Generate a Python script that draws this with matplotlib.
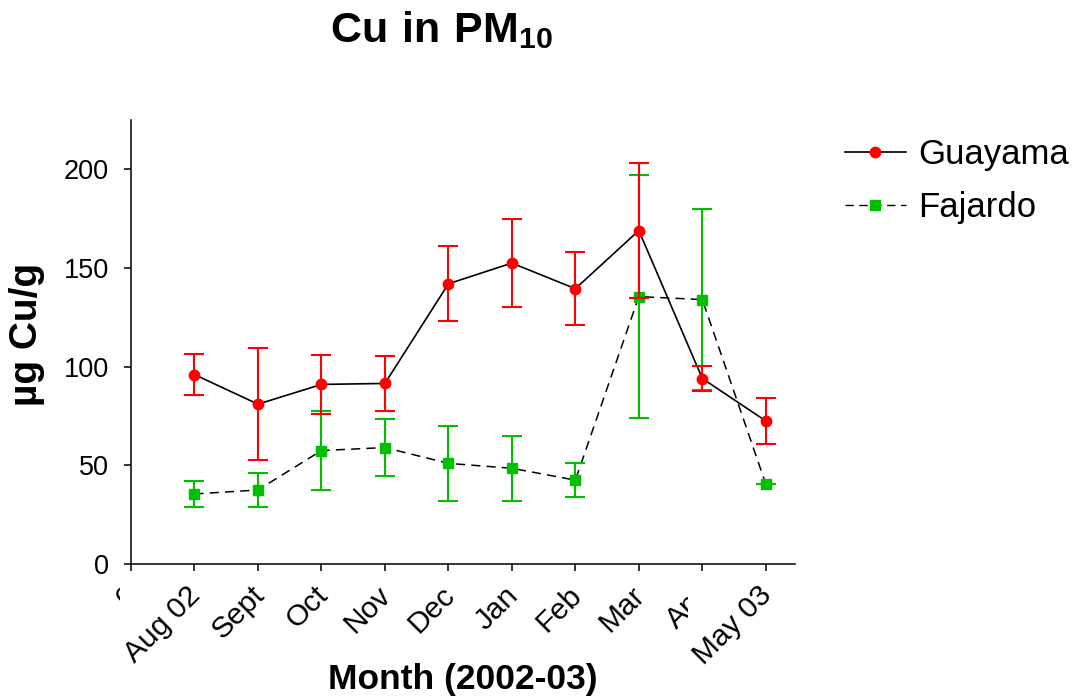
import numpy as np
import matplotlib
matplotlib.use("Agg")
import matplotlib.pyplot as plt
from matplotlib.lines import Line2D
from matplotlib.transforms import Bbox, ScaledTranslation

plt.rcParams['font.family'] = ['Liberation Sans', 'DejaVu Sans']
plt.rcParams['mathtext.fontset'] = 'custom'
plt.rcParams['mathtext.rm'] = 'Liberation Sans'
plt.rcParams['mathtext.bf'] = 'Liberation Sans:bold'

months = ["0", "Aug 02", "Sept", "Oct", "Nov", "Dec", "Jan", "Feb", "Mar", "Apr", "May 03"]

guayama = [96, 81, 91, 91.5, 142, 152.5, 139.5, 169, 94, 72.5]
guayama_err = [10.5, 28.5, 15, 14, 19, 22.5, 18.5, 34, 6.5, 11.5]

fajardo = [35.5, 37.5, 57.5, 59, 51, 48.5, 42.5, 135.5, 134, 40.5]
fajardo_err = [6.5, 8.5, 20, 14.5, 19, 16.5, 8.5, 61.5, 46, 0]

RED = '#FF0000'
GREEN = '#00C000'
DASH = (0, (6, 4))

fig = plt.figure(figsize=(10.79, 7.0), dpi=100)
ax = fig.add_axes([131 / 1079, 1 - 564 / 700, (795 - 131) / 1079, (564 - 120) / 700])

x = np.arange(1, len(guayama) + 1)

# Fajardo: dashed black line with green squares
ax.plot(x, fajardo, color='black', lw=1.1, linestyle=DASH, zorder=2)
ax.errorbar(x, fajardo, yerr=fajardo_err, fmt='s', color=GREEN, ecolor=GREEN,
            markersize=6.5, elinewidth=1.5, capsize=7, capthick=1.5, zorder=3)

# Guayama: solid black line with red circles
ax.plot(x, guayama, color='black', lw=1.2, zorder=4)
ax.errorbar(x, guayama, yerr=guayama_err, fmt='o', color=RED, ecolor=RED,
            markersize=7.5, elinewidth=1.5, capsize=7, capthick=1.5, zorder=5)

ax.set_xlim(0, 10.46)
ax.set_ylim(0, 225)
ax.set_yticks([0, 50, 100, 150, 200])
ax.set_xticks(np.arange(len(months)))
ax.set_xticklabels([])

ax.tick_params(axis='x', width=1.1, length=5, direction='out')
ax.tick_params(axis='y', labelsize=19.5, width=1.1, length=5, direction='out', pad=11)
for s in ['top', 'right']:
    ax.spines[s].set_visible(False)
for s in ['left', 'bottom']:
    ax.spines[s].set_linewidth(1.1)

# Slanted month labels under the ticks
label_offset = ScaledTranslation(-5.8 / 72, -12.2 / 72, fig.dpi_scale_trans)
month_labels = []
for i, name in enumerate(months):
    t = ax.text(i, 0, name, transform=ax.get_xaxis_transform() + label_offset,
                rotation=45, rotation_mode='anchor', ha='right', va='top',
                fontsize=21.5, clip_on=False)
    month_labels.append(t)

ax.set_ylabel('µg Cu/g', fontsize=28, fontweight='bold')
ax.yaxis.set_label_coords(-0.1295, 0.516)
ax.set_xlabel('Month (2002-03)', fontsize=25.5, fontweight='bold')
ax.xaxis.set_label_coords(0.5, -0.223)

fig.text(441 / 1079, 1 - 30 / 700, r'$\mathbf{Cu\ in\ PM_{10}}$', fontsize=31,
         ha='center', va='center')

handles = [
    Line2D([], [], color='black', lw=1.2, marker='o', markersize=7.5,
           markerfacecolor=RED, markeredgecolor=RED),
    Line2D([], [], color='black', lw=1.0, linestyle=DASH, marker='s', markersize=6.5,
           markerfacecolor=GREEN, markeredgecolor=GREEN),
]
fig.legend(handles, ['Guayama', 'Fajardo'], loc='upper left',
           bbox_to_anchor=(845 / 1079, 1 - 138 / 700), frameon=False,
           borderpad=0, borderaxespad=0,
           fontsize=25, handlelength=1.75, handletextpad=0.35, labelspacing=0.57)

# Each month label sits on an opaque box, so a long label hides the part of the
# label before it that reaches under its box.
fig.canvas.draw()
renderer = fig.canvas.get_renderer()
extents = [t.get_window_extent(renderer) for t in month_labels]
for i in range(len(month_labels) - 1):
    nxt = extents[i + 1]
    if nxt.x0 < extents[i].x1:
        month_labels[i].set_clip_box(Bbox.from_extents(-1e4, -1e4, nxt.x0, 1e4))
        month_labels[i].set_clip_on(True)

fig.savefig('out.png', dpi=100)
